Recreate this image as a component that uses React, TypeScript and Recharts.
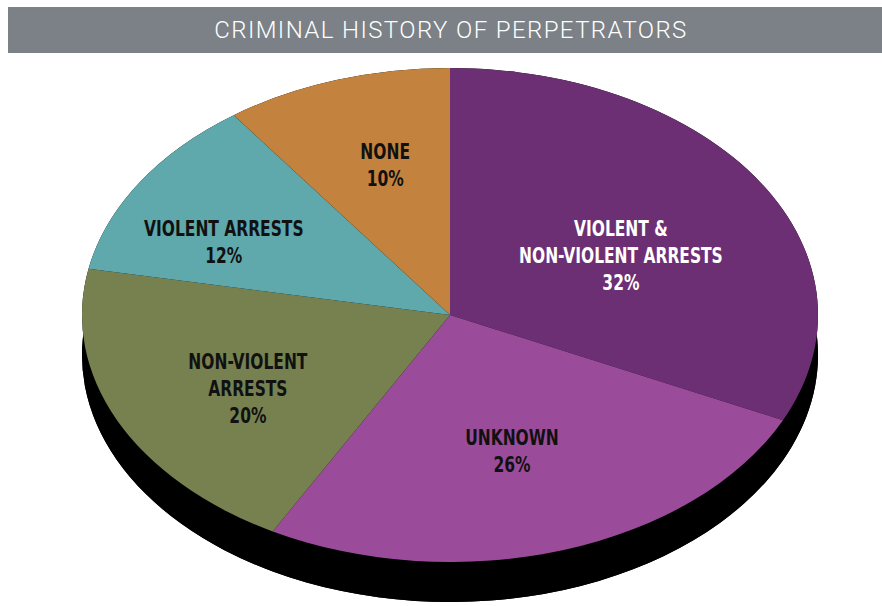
import React from "react";
import { PieChart, Pie, Cell } from "recharts";

const categories = [
  ["VIOLENT &", "NON-VIOLENT ARRESTS"],
  ["UNKNOWN"],
  ["NON-VIOLENT", "ARRESTS"],
  ["VIOLENT ARRESTS"],
  ["NONE"],
];
const shares = [32, 26, 20, 12, 10];
const sliceColors = ["#6d2f74", "#9a4c9b", "#778150", "#5fa8ab", "#c3833f"];
const labelColors = ["#ffffff", "#111111", "#111111", "#111111", "#111111"];

const data = shares.map((value, i) => ({ name: categories[i].join(" "), value }));

const W = 882;
const H = 606;
const CX = 450;
const CY = 315;
const RX = 368;
const SQUASH = 247 / 368;
const DEPTH = 40;
const RAD = Math.PI / 180;

// label spot as fraction of ellipse radius (x, y) per slice
const labelSpot = [
  [0.55, 0.45],
  [0.545, 0.58],
  [0.607, 0.7],
  [0.728, 0.556],
  [0.57, 0.64],
];

function pt(cx: number, cy: number, rx: number, ry: number, a: number) {
  return [cx + rx * Math.cos(a * RAD), cy - ry * Math.sin(a * RAD)];
}

function ellipseSector(cx: number, cy: number, rx: number, ry: number, s: number, e: number) {
  const [x1, y1] = pt(cx, cy, rx, ry, s);
  const [x2, y2] = pt(cx, cy, rx, ry, e);
  const large = Math.abs(s - e) > 180 ? 1 : 0;
  const sweep = s > e ? 1 : 0;
  return `M${cx},${cy}L${x1},${y1}A${rx},${ry} 0 ${large} ${sweep} ${x2},${y2}Z`;
}

function TopShape(props: any) {
  const { cx, cy, outerRadius, startAngle, endAngle, fill } = props;
  const ry = outerRadius * SQUASH;
  return <path d={ellipseSector(cx, cy, outerRadius, ry, startAngle, endAngle)} fill={fill} stroke="none" />;
}

function SideShape(props: any) {
  const { cx, cy, outerRadius, startAngle, endAngle } = props;
  const rx = outerRadius;
  const ry = outerRadius * SQUASH;
  const [x1, y1] = pt(cx, cy, rx, ry, startAngle);
  const [x2, y2] = pt(cx, cy, rx, ry, endAngle);
  const large = Math.abs(startAngle - endAngle) > 180 ? 1 : 0;
  const sweep = startAngle > endAngle ? 1 : 0;
  const wall =
    `M${x1},${y1}A${rx},${ry} 0 ${large} ${sweep} ${x2},${y2}` +
    `L${x2},${y2 + DEPTH}A${rx},${ry} 0 ${large} ${1 - sweep} ${x1},${y1 + DEPTH}Z`;
  return (
    <g>
      <path d={ellipseSector(cx, cy + DEPTH, rx, ry, startAngle, endAngle)} fill="#000" />
      <path d={wall} fill="#000" />
    </g>
  );
}

function renderLabel(props: any) {
  const { cx, cy, outerRadius, midAngle, index, value } = props;
  const [fx, fy] = labelSpot[index];
  const x = cx + outerRadius * fx * Math.cos(midAngle * RAD);
  const y = cy - outerRadius * SQUASH * fy * Math.sin(midAngle * RAD);
  const lines = [...categories[index], `${value}%`];
  const lh = 27;
  const top = -((lines.length - 1) * lh) / 2;
  return (
    <g key={`lbl-${index}`} transform={`translate(${x},${y}) scale(0.82,1)`}>
      <text
        x={0}
        y={top}
        textAnchor="middle"
        dominantBaseline="central"
        fill={labelColors[index]}
        style={{ fontFamily: "'DejaVu Sans Condensed', 'DejaVu Sans', sans-serif", fontWeight: 700, fontSize: 21 }}
      >
        {lines.map((l, i) => (
          <tspan key={i} x={0} dy={i === 0 ? 0 : lh}>
            {l}
          </tspan>
        ))}
      </text>
    </g>
  );
}

export default function App() {
  return (
    <div style={{ position: "relative", width: W, height: H, background: "#fff" }}>
      <style>{"body{margin:0}"}</style>
      <PieChart width={W} height={H} margin={{ top: 0, right: 0, bottom: 0, left: 0 }}>
        <Pie
          data={data}
          dataKey="value"
          cx={CX}
          cy={CY}
          outerRadius={RX}
          startAngle={90}
          endAngle={-270}
          stroke="none"
          fill="#000"
          shape={SideShape}
          isAnimationActive={false}
          label={false}
          labelLine={false}
        />
        <Pie
          data={data}
          dataKey="value"
          cx={CX}
          cy={CY}
          outerRadius={RX}
          startAngle={90}
          endAngle={-270}
          stroke="none"
          shape={TopShape}
          isAnimationActive={false}
          label={renderLabel}
          labelLine={false}
        >
          {data.map((d, i) => (
            <Cell key={d.name} fill={sliceColors[i]} />
          ))}
        </Pie>
      </PieChart>
      <div
        style={{
          position: "absolute",
          left: 8,
          top: 7,
          width: 874,
          height: 46,
          boxSizing: "border-box",
          paddingLeft: 12,
          background: "#7b8186",
          color: "#fff",
          display: "flex",
          alignItems: "center",
          justifyContent: "center",
          fontFamily: "Roboto, sans-serif",
          fontWeight: 300,
          fontSize: 24,
          letterSpacing: 1.4,
        }}
      >
        CRIMINAL HISTORY OF PERPETRATORS
      </div>
    </div>
  );
}
